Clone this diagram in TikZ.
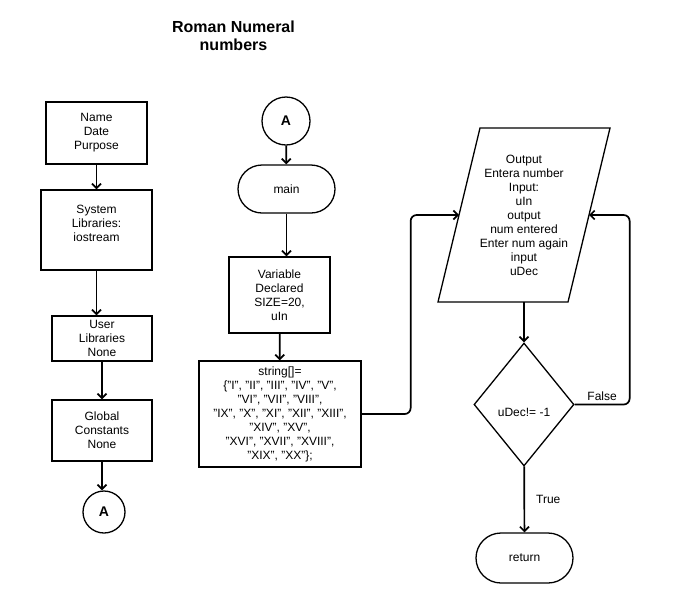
\documentclass[tikz,border=0pt]{standalone}
\usepackage{fontspec}
\setmainfont{Liberation Sans}
\usepackage{tikz}
\usetikzlibrary{arrows.meta,shapes.geometric,shapes.misc}
\newcommand{\boxfont}{\fontsize{12}{14}\selectfont}
\newcommand{\headfont}{\fontsize{16}{18}\selectfont\bfseries}
\newcommand{\connfont}{\fontsize{14}{16}\selectfont\bfseries}
\tikzset{
  box/.style={draw=black, line width=1.3pt, align=center, font=\boxfont, inner sep=2pt},
  term/.style={box, rounded rectangle},
  conn/.style={box, circle, font=\connfont, inner sep=0pt},
  test/.style={box, diamond, aspect=0.81, inner sep=0pt, minimum width=100pt, minimum height=123pt},
  line/.style={draw=black, line width=1.7pt, rounded corners=6pt, -{Straight Barb[length=4.5pt,width=9pt]}},
  tag/.style={font=\boxfont, inner sep=1pt, align=center},
  head/.style={font=\headfont, align=center}
}
\begin{document}
\begin{tikzpicture}[x=1pt, y=-1pt]
  \useasboundingbox (0,0) rectangle (692,603);

  \node[head] (title) at (233.5,36) {Roman Numeral\\numbers};

  % left column
  \node[box, minimum width=101pt, minimum height=62pt] (name) at (96.5,133) {Name\\Date\\Purpose};
  \node[box, minimum width=111pt, minimum height=80pt] (sys) at (96.5,230) {System\\Libraries:\\iostream\\\mbox{}};
  \node[box, minimum width=100pt, minimum height=45pt] (user) at (102,338.5) {User\\Libraries\\None};
  \node[box, minimum width=100pt, minimum height=61pt] (glob) at (102,430.5) {Global\\Constants\\None};
  \node[conn, minimum size=42pt] (endA) at (104,512) {A};

  \draw[line] (name) -- (sys);
  \draw[line] (sys.south) -- (sys.south |- user.north);
  \draw[line] (user) -- (glob);
  \draw[line] (glob.south) -- (glob.south |- endA.north);

  % middle column
  \node[conn, minimum size=48pt] (topA) at (286,121) {A};
  \node[term, minimum width=101pt, minimum height=48pt] (main) at (286.5,189) {main};
  \node[box, minimum width=101pt, minimum height=76pt] (var) at (279.5,295) {Variable\\Declared\\SIZE=20,\\uIn};
  \node[box, minimum width=162pt, minimum height=106pt] (str) at (280,414) {string[]=\\
    \{"I", "II", "III", "IV", "V",\\
    "VI", "VII", "VIII",\\
    "IX", "X", "XI", "XII", "XIII",\\
    "XIV", "XV",\\
    "XVI", "XVII", "XVIII",\\
    "XIX", "XX"\};};

  \draw[line] (topA) -- (main);
  \draw[line] (main.south) -- (main.south |- var.north);
  \draw[line] (var) -- (str);

  % right column, input/output block drawn as a parallelogram
  \node[tag] (io) at (524,215) {Output\\Entera number\\Input:\\uIn\\output\\num entered\\Enter num again\\input\\uDec};
  \draw[box] (438,302) -- (480,128) -- (610,128) -- (568,302) -- cycle;
  \coordinate (ioW) at (459,215);
  \coordinate (ioE) at (589,215);
  \coordinate (ioS) at (524,302);

  \node[test, label={[tag, yshift=-8pt]center:uDec!= -1}] (dec) at (524,404.5) {};
  \node[term, minimum width=101pt, minimum height=50pt] (ret) at (524.5,558) {return};

  \draw[line] (str.east) -- ++(49,0) |- (ioW);
  \draw[line] (ioS) -- (dec.north);
  \draw[line] (dec.east) -- ++(55,0) node[tag, midway, above=2pt] {False} |- (ioE);
  \draw[line] (dec) -- node[tag, right=10pt] {True} (ret);
\end{tikzpicture}
\end{document}
